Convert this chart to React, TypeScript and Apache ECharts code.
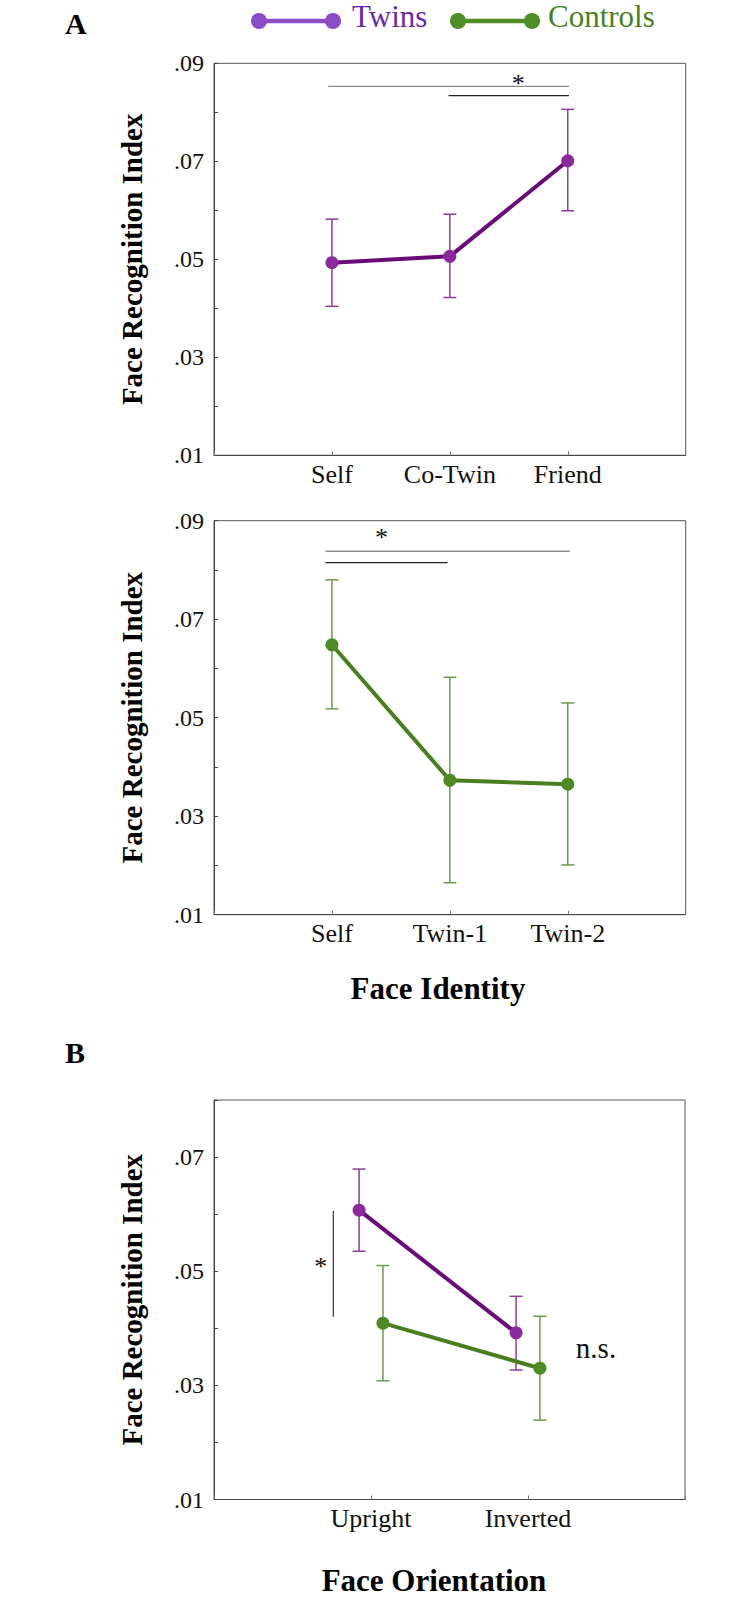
import React, { useEffect, useRef } from 'react';
import * as echarts from 'echarts';

// ---------- data ----------
const twinsCats = ['Self', 'Co-Twin', 'Friend'];
const twinsMean = [0.0493, 0.0506, 0.0701];
const twinsLow = [0.0404, 0.0422, 0.0599];
const twinsHigh = [0.0582, 0.0592, 0.0806];

const controlsCats = ['Self', 'Twin-1', 'Twin-2'];
const controlsMean = [0.0648, 0.0373, 0.0365];
const controlsLow = [0.0518, 0.0165, 0.0201];
const controlsHigh = [0.078, 0.0582, 0.053];

const orientCats = ['Upright', 'Inverted'];
const orientTwinsMean = [0.0607, 0.0392];
const orientTwinsLow = [0.0535, 0.0327];
const orientTwinsHigh = [0.0679, 0.0456];
const orientControlsMean = [0.0409, 0.033];
const orientControlsLow = [0.0308, 0.0239];
const orientControlsHigh = [0.051, 0.0421];

const yTickLabels = ['.01', '.03', '.05', '.07', '.09'];
const groupNames = ['Twins', 'Controls'];

// significance brackets: [x1, x2, y]
const sigTopGray = [0.97, 3.01, 0.0853];
const sigTopBlack = [1.99, 3.01, 0.0834];
const sigMidGray = [0.945, 3.017, 0.0838];
const sigMidBlack = [0.945, 1.98, 0.0815];
// vertical bracket bottom panel: [x, y1, y2]
const sigBottomVert = [0.76, 0.042, 0.0606];
// annotation texts: [x, y, text]
const notesTop: [number, number, string][] = [[2.58, 0.0866, '*']];
const notesMid: [number, number, string][] = [[1.42, 0.0875, '*']];
const notesBottom: [number, number, string][] = [[0.68, 0.0515, '*'], [2.433, 0.037, 'n.s.']];

const FONT = "'Liberation Serif', 'Times New Roman', Times, serif";
const PURPLE_LINE = '#6a0c78';
const PURPLE_DOT = '#8a2a9c';
const PURPLE_ERR = '#8a3d96';
const GREEN_LINE = '#4a7f1f';
const GREEN_DOT = '#4e8a24';
const GREEN_ERR = '#6c9a4e';

function errorBars(gi: number, xs: number[], lo: number[], hi: number[], color: string) {
  return {
    type: 'custom',
    xAxisIndex: gi,
    yAxisIndex: gi,
    z: 2,
    silent: true,
    data: xs.map((x, i) => [x, lo[i], hi[i]]),
    renderItem: (params: any, api: any) => {
      const x = api.value(0);
      const pLo = api.coord([x, api.value(1)]);
      const pHi = api.coord([x, api.value(2)]);
      const hw = 6.5;
      const st = { stroke: color, lineWidth: 1.5 };
      return {
        type: 'group',
        children: [
          { type: 'line', shape: { x1: pLo[0], y1: pLo[1], x2: pHi[0], y2: pHi[1] }, style: st },
          { type: 'line', shape: { x1: pLo[0] - hw, y1: pLo[1], x2: pLo[0] + hw, y2: pLo[1] }, style: st },
          { type: 'line', shape: { x1: pHi[0] - hw, y1: pHi[1], x2: pHi[0] + hw, y2: pHi[1] }, style: st },
        ],
      };
    },
  };
}

function meanLine(gi: number, name: string, xs: number[], ys: number[], lineColor: string, dotColor: string) {
  return {
    type: 'line',
    name,
    xAxisIndex: gi,
    yAxisIndex: gi,
    z: 3,
    silent: true,
    data: xs.map((x, i) => [x, ys[i]]),
    symbol: 'circle',
    symbolSize: 13,
    showSymbol: true,
    lineStyle: { color: lineColor, width: 4 },
    itemStyle: { color: dotColor },
    emphasis: { disabled: true },
  };
}

function hBrackets(gi: number, rows: { d: number[]; color: string }[]) {
  return {
    type: 'custom',
    xAxisIndex: gi,
    yAxisIndex: gi,
    z: 1,
    silent: true,
    data: rows.map((r) => r.d),
    renderItem: (params: any, api: any) => {
      const p1 = api.coord([api.value(0), api.value(2)]);
      const p2 = api.coord([api.value(1), api.value(2)]);
      return {
        type: 'line',
        shape: { x1: p1[0], y1: p1[1], x2: p2[0], y2: p2[1] },
        style: { stroke: rows[params.dataIndex].color, lineWidth: 1.3 },
      };
    },
  };
}

function vBracket(gi: number, d: number[]) {
  return {
    type: 'custom',
    xAxisIndex: gi,
    yAxisIndex: gi,
    z: 1,
    silent: true,
    data: [d],
    renderItem: (params: any, api: any) => {
      const p1 = api.coord([api.value(0), api.value(1)]);
      const p2 = api.coord([api.value(0), api.value(2)]);
      return {
        type: 'line',
        shape: { x1: p1[0], y1: p1[1], x2: p2[0], y2: p2[1] },
        style: { stroke: '#333', lineWidth: 1.2 },
      };
    },
  };
}

function notes(gi: number, rows: [number, number, string][], sizes: number[]) {
  return {
    type: 'custom',
    xAxisIndex: gi,
    yAxisIndex: gi,
    z: 4,
    silent: true,
    data: rows.map((r) => [r[0], r[1]]),
    renderItem: (params: any, api: any) => {
      const p = api.coord([api.value(0), api.value(1)]);
      const txt = rows[params.dataIndex][2];
      const size = sizes[params.dataIndex];
      const shift = txt === '*' ? 4 : 3;
      return {
        type: 'text',
        x: p[0],
        y: p[1] + shift,
        style: {
          text: txt,
          font: `${size}px ${FONT}`,
          fill: '#111',
          align: 'center',
          verticalAlign: 'middle',
        },
      };
    },
  };
}

function yAxis(gi: number, max: number) {
  return {
    type: 'value',
    gridIndex: gi,
    min: 0.01,
    max,
    interval: 0.01,
    axisLine: { show: true, lineStyle: { color: '#444', width: 1 } },
    axisTick: { show: true, inside: true, length: 4, lineStyle: { color: '#444' } },
    splitLine: { show: false },
    axisLabel: {
      margin: 10,
      color: '#111',
      fontFamily: FONT,
      fontSize: 24,
      showMinLabel: true,
      showMaxLabel: true,
      formatter: (v: number) => {
        const s = '.' + String(Math.round(v * 100)).padStart(2, '0');
        return yTickLabels.includes(s) ? s : '';
      },
    },
    name: 'Face Recognition Index',
    nameLocation: 'middle',
    nameRotate: 90,
    nameGap: 68,
    nameTextStyle: { fontFamily: FONT, fontWeight: 'bold', fontSize: 29, color: '#000' },
  };
}

function xAxis(gi: number, cats: string[]) {
  return {
    type: 'value',
    gridIndex: gi,
    min: 0,
    max: cats.length + 1,
    interval: 1,
    axisLine: { show: true, lineStyle: { color: '#444', width: 1 } },
    axisTick: { show: true, inside: true, length: 4, lineStyle: { color: '#777' } },
    splitLine: { show: false },
    axisLabel: {
      margin: 6,
      color: '#111',
      fontFamily: FONT,
      fontSize: 26,
      showMinLabel: true,
      showMaxLabel: true,
      formatter: (v: number) => cats[Math.round(v) - 1] ?? '',
    },
  };
}

const gridBase = { show: true, borderColor: '#555', borderWidth: 1, backgroundColor: 'transparent', containLabel: false };

export default function App() {
  const ref = useRef<HTMLDivElement>(null);
  useEffect(() => {
    document.body.style.margin = '0';
    if (!ref.current) return;
    const chart = echarts.init(ref.current, undefined, { renderer: 'svg' });
    const xs3 = [1, 2, 3];
    const dodge = 0.076;
    const xsTw = orientCats.map((_, i) => i + 1 - dodge);
    const xsCo = orientCats.map((_, i) => i + 1 + dodge);

    const legendItems = [
      { name: groupNames[0], x1: 259, x2: 333, tx: 352, marker: '#8b4cc8', text: '#6a2aa3' },
      { name: groupNames[1], x1: 458, x2: 532, tx: 548, marker: '#4f8d26', text: '#4a7f26' },
    ];
    const legendGraphics: any[] = [];
    legendItems.forEach((it) => {
      legendGraphics.push({ type: 'line', shape: { x1: it.x1, y1: 21, x2: it.x2, y2: 21 }, style: { stroke: it.marker, lineWidth: 4.5 } });
      legendGraphics.push({ type: 'circle', shape: { cx: it.x1, cy: 21, r: 8 }, style: { fill: it.marker } });
      legendGraphics.push({ type: 'circle', shape: { cx: it.x2, cy: 21, r: 8 }, style: { fill: it.marker } });
      legendGraphics.push({
        type: 'text', x: it.tx, y: 16,
        style: { text: it.name, font: `31px ${FONT}`, fill: it.text, align: 'left', verticalAlign: 'middle' },
      });
    });

    const option: any = {
      animation: false,
      grid: [
        { ...gridBase, left: 214, top: 63.3, width: 471.7, height: 392 },
        { ...gridBase, left: 214, top: 520.7, width: 471.7, height: 394 },
        { ...gridBase, left: 214, top: 1100, width: 471, height: 399.5 },
      ],
      xAxis: [xAxis(0, twinsCats), xAxis(1, controlsCats), xAxis(2, orientCats)],
      yAxis: [yAxis(0, 0.09), yAxis(1, 0.09), yAxis(2, 0.08)],
      graphic: [
        ...legendGraphics,
        { type: 'text', x: 65, y: 23, style: { text: 'A', font: `bold 30px ${FONT}`, fill: '#000', verticalAlign: 'middle' } },
        { type: 'text', x: 65, y: 1052.5, style: { text: 'B', font: `bold 30px ${FONT}`, fill: '#000', verticalAlign: 'middle' } },
        { type: 'text', x: 438, y: 988.5, style: { text: 'Face Identity', font: `bold 31px ${FONT}`, fill: '#000', align: 'center', verticalAlign: 'middle' } },
        { type: 'text', x: 434, y: 1580, style: { text: 'Face Orientation', font: `bold 31px ${FONT}`, fill: '#000', align: 'center', verticalAlign: 'middle' } },
      ],
      series: [
        hBrackets(0, [{ d: sigTopGray, color: '#8a8a8a' }, { d: sigTopBlack, color: '#222' }]),
        notes(0, notesTop, [26]),
        errorBars(0, xs3, twinsLow, twinsHigh, PURPLE_ERR),
        meanLine(0, groupNames[0], xs3, twinsMean, PURPLE_LINE, PURPLE_DOT),

        hBrackets(1, [{ d: sigMidGray, color: '#8a8a8a' }, { d: sigMidBlack, color: '#222' }]),
        notes(1, notesMid, [26]),
        errorBars(1, xs3, controlsLow, controlsHigh, GREEN_ERR),
        meanLine(1, groupNames[1], xs3, controlsMean, GREEN_LINE, GREEN_DOT),

        vBracket(2, sigBottomVert),
        notes(2, notesBottom, [26, 29]),
        errorBars(2, xsCo, orientControlsLow, orientControlsHigh, GREEN_ERR),
        errorBars(2, xsTw, orientTwinsLow, orientTwinsHigh, PURPLE_ERR),
        meanLine(2, groupNames[1], xsCo, orientControlsMean, GREEN_LINE, GREEN_DOT),
        meanLine(2, groupNames[0], xsTw, orientTwinsMean, PURPLE_LINE, PURPLE_DOT),
      ],
    };
    chart.setOption(option);
    return () => chart.dispose();
  }, []);
  return <div ref={ref} style={{ width: 753, height: 1600 }} />;
}
